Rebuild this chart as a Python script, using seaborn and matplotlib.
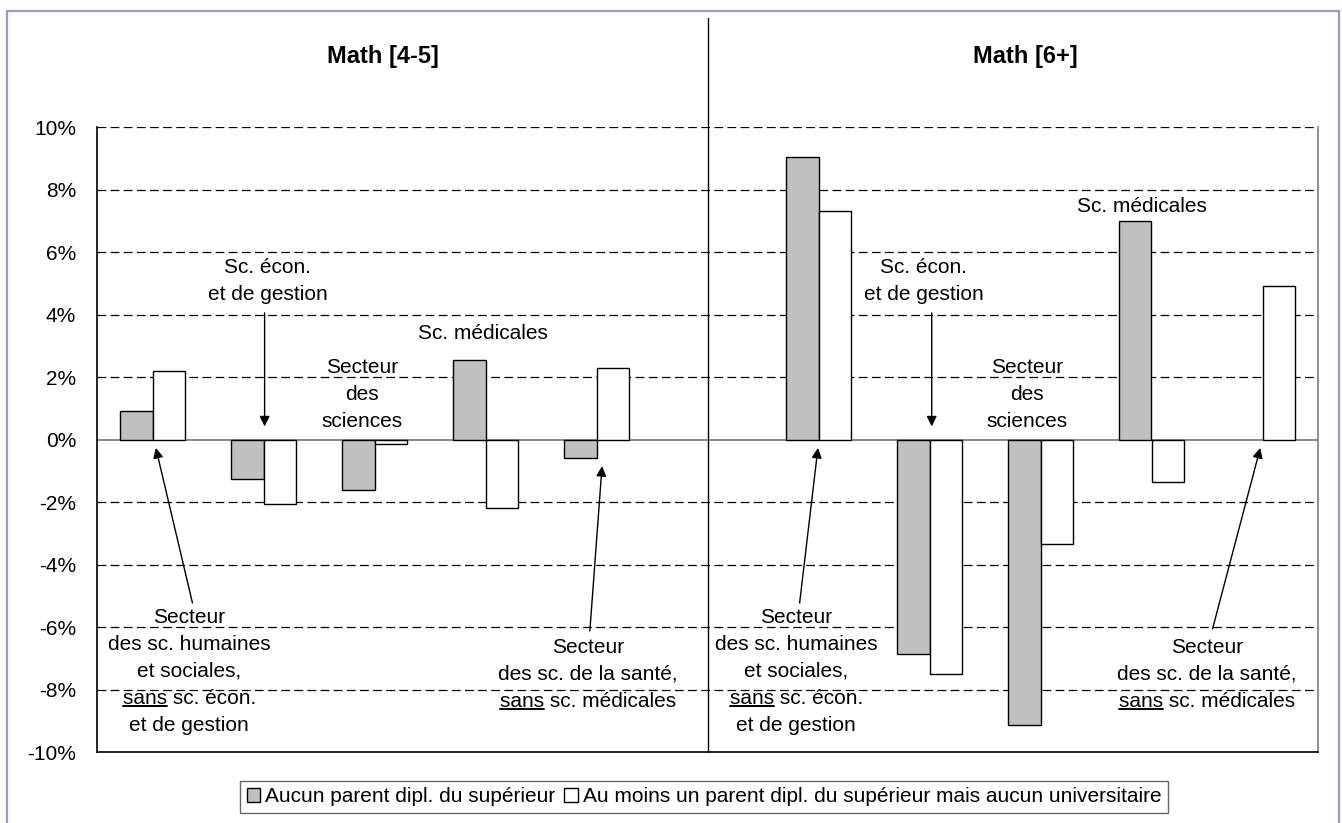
import matplotlib
matplotlib.use('Agg')
import numpy as np
import pandas as pd
import seaborn as sns
import matplotlib.pyplot as plt
from matplotlib.lines import Line2D
from matplotlib.patches import Patch, Rectangle
from matplotlib.transforms import IdentityTransform

# Données (écarts en points de %)
secteurs = ["SHS", "Eco", "Sciences", "Medic", "Sante"]
panneaux = ["Math [4-5]", "Math [6+]"]
groupes = ["Aucun parent dipl. du supérieur",
           "Au moins un parent dipl. du supérieur mais aucun universitaire"]
aucun_45 = [0.9, -1.25, -1.6, 2.55, -0.6]
aumoins_45 = [2.2, -2.05, -0.15, -2.2, 2.3]
aucun_6 = [9.05, -6.85, -9.15, 7.0, np.nan]
aumoins_6 = [7.3, -7.5, -3.35, -1.35, 4.9]
yticks = [-10, -8, -6, -4, -2, 0, 2, 4, 6, 8, 10]

# Tableau long pour seaborn
ordre = [s + " 4-5" for s in secteurs] + ["sep"] + [s + " 6+" for s in secteurs]
lignes = []
for s, a, b in zip(secteurs, aucun_45, aumoins_45):
    lignes.append((s + " 4-5", groupes[0], a))
    lignes.append((s + " 4-5", groupes[1], b))
for s, a, b in zip(secteurs, aucun_6, aumoins_6):
    lignes.append((s + " 6+", groupes[0], a))
    lignes.append((s + " 6+", groupes[1], b))
df = pd.DataFrame(lignes, columns=["cat", "groupe", "val"]).dropna()

sns.set_style("white")
plt.rcParams['font.family'] = ['Liberation Sans', 'DejaVu Sans']
plt.rcParams['text.color'] = 'black'
plt.rcParams['ytick.color'] = 'black'
plt.rcParams['xtick.color'] = 'black'
plt.rcParams['axes.labelcolor'] = 'black'
fs = 15
couleurs = ['#C0C0C0', 'white']

W, H = 1342, 823
fig = plt.figure(figsize=(W / 100, H / 100), dpi=100)
ax = fig.add_axes([97 / W, 1 - 752 / H, (1318 - 97) / W, (752 - 127) / H])

sns.barplot(data=df, x="cat", y="val", hue="groupe", order=ordre, hue_order=groupes,
            palette=couleurs, saturation=1, edgecolor='black', linewidth=1,
            width=0.58, ax=ax, legend=False, zorder=3)

ax.set_xlim(-0.5, 10.5)
ax.set_ylim(-10, 10)
ax.set_xticks([])
ax.set_xlabel("")
ax.set_ylabel("")
ax.set_yticks(yticks)
ax.set_yticklabels([f"{v}%" for v in yticks], fontsize=fs)
ax.tick_params(axis='y', direction='out', length=7, width=1, color='black', pad=8)

for v in yticks:
    if v == 0:
        ax.axhline(0, color='#808080', lw=1.3, zorder=2)
    elif v != -10:
        ax.axhline(v, color='black', lw=0.9, ls=(0, (7, 3.5)), zorder=1)

ax.spines['top'].set_visible(False)
ax.spines['left'].set_color('black')
ax.spines['bottom'].set_color('black')
ax.spines['right'].set_color('#808080')
for sp in ['left', 'bottom', 'right']:
    ax.spines[sp].set_linewidth(1.2)

# séparateur entre les deux panneaux
ax.plot([5, 5], [-10, 13.5], color='black', lw=1, clip_on=False, zorder=4)

# titres des panneaux
ax.text(2.08, 12.25, panneaux[0], ha='center', va='center', fontsize=17, fontweight='bold')
ax.text(7.86, 12.25, panneaux[1], ha='center', va='center', fontsize=17, fontweight='bold')

# annotations
pas = 0.865
a_souligner = []


def bloc(x, y0, textes):
    for i, t in enumerate(textes):
        obj = ax.text(x, y0 - i * pas, t, ha='center', va='center', fontsize=fs, zorder=5)
        if t.startswith("sans "):
            a_souligner.append(obj)


def fleche(x0, y0, x1, y1):
    ax.annotate("", xy=(x1, y1), xytext=(x0, y0),
                arrowprops=dict(arrowstyle='-|>', color='black', lw=1,
                                mutation_scale=15, shrinkA=0, shrinkB=0), zorder=5)


shs = ["Secteur", "des sc. humaines", "et sociales,", "sans sc. écon.", "et de gestion"]
eco = ["Sc. écon.", "et de gestion"]
sci = ["Secteur", "des", "sciences"]
sante = ["Secteur", "des sc. de la santé,", "sans sc. médicales"]

# Math [4-5]
bloc(0.33, -5.68, shs)
fleche(0.36, -5.23, 0.03, -0.27)
bloc(1.04, 5.49, eco)
fleche(1.01, 4.05, 1.01, 0.42)
bloc(1.89, 2.32, sci)
bloc(2.98, 3.38, ["Sc. médicales"])
bloc(3.92, -6.64, sante)
fleche(3.94, -6.13, 4.05, -0.85)

# Math [6+]
bloc(5.80, -5.68, shs)
fleche(5.83, -5.23, 5.995, -0.27)
bloc(6.95, 5.49, eco)
fleche(7.02, 4.05, 7.02, 0.42)
bloc(7.88, 2.32, sci)
bloc(8.91, 7.47, ["Sc. médicales"])
bloc(9.50, -6.64, sante)
fleche(9.55, -6.06, 9.98, -0.27)

# légende
poignees = [Patch(facecolor=c, edgecolor='black', lw=1) for c in couleurs]
leg = fig.legend(poignees, groupes, loc='center', bbox_to_anchor=(704 / W, 1 - 797 / H),
                 ncol=2, fontsize=fs, frameon=True, fancybox=False, edgecolor='#404040',
                 handlelength=0.65, handleheight=0.65, handletextpad=0.25,
                 columnspacing=0.4, borderpad=0.3, borderaxespad=0)
leg.get_frame().set_linewidth(1)

# cadre extérieur
fig.patches.append(Rectangle((7 / W, -0.05), (1339 - 7) / W, (823 - 11) / H + 0.05,
                             transform=fig.transFigure, fill=False,
                             edgecolor='#9999CC', lw=1.6))

# soulignement de "sans"
fig.canvas.draw()
rend = fig.canvas.get_renderer()
for t in a_souligner:
    bb = t.get_window_extent(rend)
    tmp = fig.text(0, 0, "sans", fontsize=fs)
    w = tmp.get_window_extent(rend).width
    tmp.remove()
    y = bb.y0 + 1.5
    fig.add_artist(Line2D([bb.x0, bb.x0 + w], [y, y], transform=IdentityTransform(),
                          color='black', lw=1.4))

fig.savefig("out.png", dpi=100)
